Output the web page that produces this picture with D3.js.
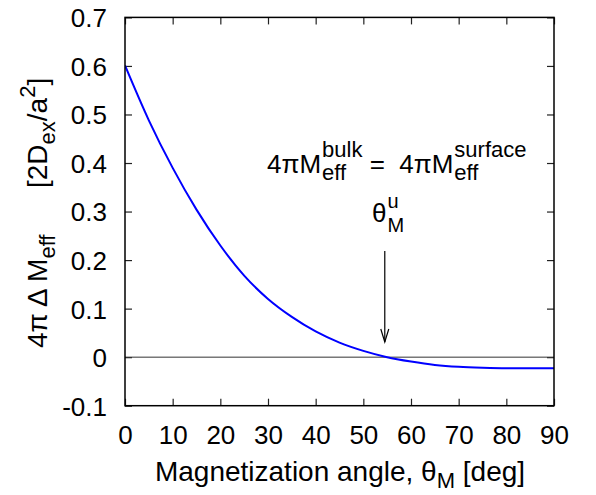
<!DOCTYPE html>
<html>
<head>
<meta charset="utf-8">
<script src="https://cdn.jsdelivr.net/npm/d3@7"></script>
<style>
  body { margin: 0; background: #fff; }
  text { font-family: "Liberation Sans", Arial, Helvetica, sans-serif; fill: #000; white-space: pre; }
</style>
</head>
<body>
<div id="chart"></div>
<script>
/* Data */
const angles = [0, 5, 10, 15, 20, 25, 30, 35, 40, 45, 50, 55, 60, 65, 70, 75, 80, 85, 90];
const deltaM = [0.601, 0.488, 0.390, 0.304, 0.230, 0.168, 0.120, 0.083, 0.053, 0.030, 0.013, 0.000,
  -0.009, -0.016, -0.020, -0.022, -0.023, -0.023, -0.023];
const xTicks = [0, 10, 20, 30, 40, 50, 60, 70, 80, 90];
const yTicks = [-0.1, 0, 0.1, 0.2, 0.3, 0.4, 0.5, 0.6, 0.7];
const yTickLabels = ["-0.1", "0", "0.1", "0.2", "0.3", "0.4", "0.5", "0.6", "0.7"];
const crossingAngle = 54.5;

/* Dimensions */
const W = 596, H = 495;
const margin = { left: 125, right: 42, top: 17.4, bottom: 89.3 };
const width = W - margin.left - margin.right;
const height = H - margin.top - margin.bottom;
const tickLen = 7;
const fontMain = 26, fontScript = 22, fontTitle = 28;

// Draws base text with a superscript and subscript stacked after it
function scriptText(g, x, y, base, sup, sub, supDy, subDy, size) {
  let t = g.append("text").attr("x", x).attr("y", y)
    .style("font-size", fontMain + "px").text(base);
  let w = t.node().getComputedTextLength();
  let sx = x + w + 1;
  let a = g.append("text").attr("x", sx).attr("y", y + supDy)
    .style("font-size", size + "px").text(sup);
  let b = g.append("text").attr("x", sx).attr("y", y + subDy)
    .style("font-size", size + "px").text(sub);
  return sx + Math.max(a.node().getComputedTextLength(), b.node().getComputedTextLength());
}

function makeGraph() {
  var svg = d3.select("#chart").append("svg")
    .attr("width", W)
    .attr("height", H);

  var x = d3.scaleLinear().domain([0, 90]).range([margin.left, margin.left + width]);
  var y = d3.scaleLinear().domain([-0.1, 0.7]).range([margin.top + height, margin.top]);

  /* Axes, ticks pointing inward */
  let bottom = svg.append("g")
    .attr("transform", "translate(0," + (margin.top + height) + ")")
    .call(d3.axisBottom(x).tickValues(xTicks).tickSize(-tickLen).tickPadding(0));
  bottom.selectAll("text").attr("dy", 0).attr("y", 38);

  let left = svg.append("g")
    .attr("transform", "translate(" + margin.left + ",0)")
    .call(d3.axisLeft(y).tickValues(yTicks).tickSize(-tickLen).tickPadding(18)
      .tickFormat((d, i) => yTickLabels[i]));
  left.selectAll("text").attr("dy", "0.36em");

  svg.append("g")
    .attr("transform", "translate(0," + margin.top + ")")
    .call(d3.axisTop(x).tickValues(xTicks).tickSize(-tickLen).tickFormat(""));
  svg.append("g")
    .attr("transform", "translate(" + (margin.left + width) + ",0)")
    .call(d3.axisRight(y).tickValues(yTicks).tickSize(-tickLen).tickFormat(""));

  svg.selectAll(".domain").remove();
  svg.selectAll(".tick line").attr("stroke", "#222").attr("stroke-width", 1.2);
  svg.selectAll(".tick text")
    .style("font-size", fontMain + "px")
    .style("font-family", '"Liberation Sans", Arial, Helvetica, sans-serif')
    .attr("fill", "#000");

  /* Zero line */
  svg.append("line")
    .attr("x1", x(0)).attr("x2", x(90))
    .attr("y1", y(0)).attr("y2", y(0))
    .attr("stroke", "#333").attr("stroke-width", 1);

  /* Curve */
  svg.append("clipPath").attr("id", "clip")
    .append("rect")
    .attr("x", margin.left).attr("y", margin.top)
    .attr("width", width).attr("height", height);

  var line = d3.line()
    .x((d, i) => x(angles[i]))
    .y(d => y(d))
    .curve(d3.curveMonotoneX);

  svg.append("path")
    .datum(deltaM)
    .attr("clip-path", "url(#clip)")
    .attr("fill", "none")
    .attr("stroke", "#0000ff")
    .attr("stroke-width", 2)
    .attr("d", line);

  /* Frame */
  svg.append("rect")
    .attr("x", margin.left).attr("y", margin.top)
    .attr("width", width).attr("height", height)
    .attr("fill", "none")
    .attr("stroke", "#000")
    .attr("stroke-width", 1.5);

  /* Annotation */
  let ann = svg.append("g");
  let end1 = scriptText(ann, 267, 173, "4\u03c0M", "bulk", "eff", -16, 7, fontScript);
  let eq = ann.append("text").attr("x", end1).attr("y", 173)
    .style("font-size", fontMain + "px").text(" =  ");
  let end2 = end1 + eq.node().getComputedTextLength();
  scriptText(ann, end2, 173, "4\u03c0M", "surface", "eff", -16, 7, fontScript);

  scriptText(ann, 372, 222, "\u03b8", "u", "M", -14, 10, 20);

  // Arrow down to crossing point
  let ax = x(crossingAngle);
  ann.append("line")
    .attr("x1", ax).attr("x2", ax)
    .attr("y1", 251).attr("y2", 342)
    .attr("stroke", "#000").attr("stroke-width", 1.2);
  ann.append("path")
    .attr("d", "M" + (ax - 4) + ",329 L" + ax + ",342 L" + (ax + 4) + ",329")
    .attr("fill", "none").attr("stroke", "#000").attr("stroke-width", 1.2);

  /* Axis titles */
  let xt = svg.append("text")
    .attr("x", 340).attr("y", 481)
    .attr("text-anchor", "middle")
    .style("font-size", fontTitle + "px");
  xt.append("tspan").text("Magnetization angle, \u03b8");
  xt.append("tspan").attr("dy", 7).style("font-size", fontScript + "px").text("M");
  xt.append("tspan").attr("dy", -7).text(" [deg]");

  let yt1 = svg.append("text")
    .attr("transform", "translate(47,348) rotate(-90)")
    .style("font-size", fontTitle + "px");
  yt1.append("tspan").text("4\u03c0 \u0394 M");
  yt1.append("tspan").attr("dy", 8).style("font-size", fontScript + "px").text("eff");

  let yt2 = svg.append("text")
    .attr("transform", "translate(47,188) rotate(-90)")
    .style("font-size", fontTitle + "px");
  yt2.append("tspan").text("[2D");
  yt2.append("tspan").attr("dy", 8).style("font-size", fontScript + "px").text("ex");
  yt2.append("tspan").attr("dy", -8).text("/a");
  yt2.append("tspan").attr("dy", -12).style("font-size", fontScript + "px").text("2");
  yt2.append("tspan").attr("dy", 12).text("]");
};

makeGraph();
</script>
</body>
</html>
